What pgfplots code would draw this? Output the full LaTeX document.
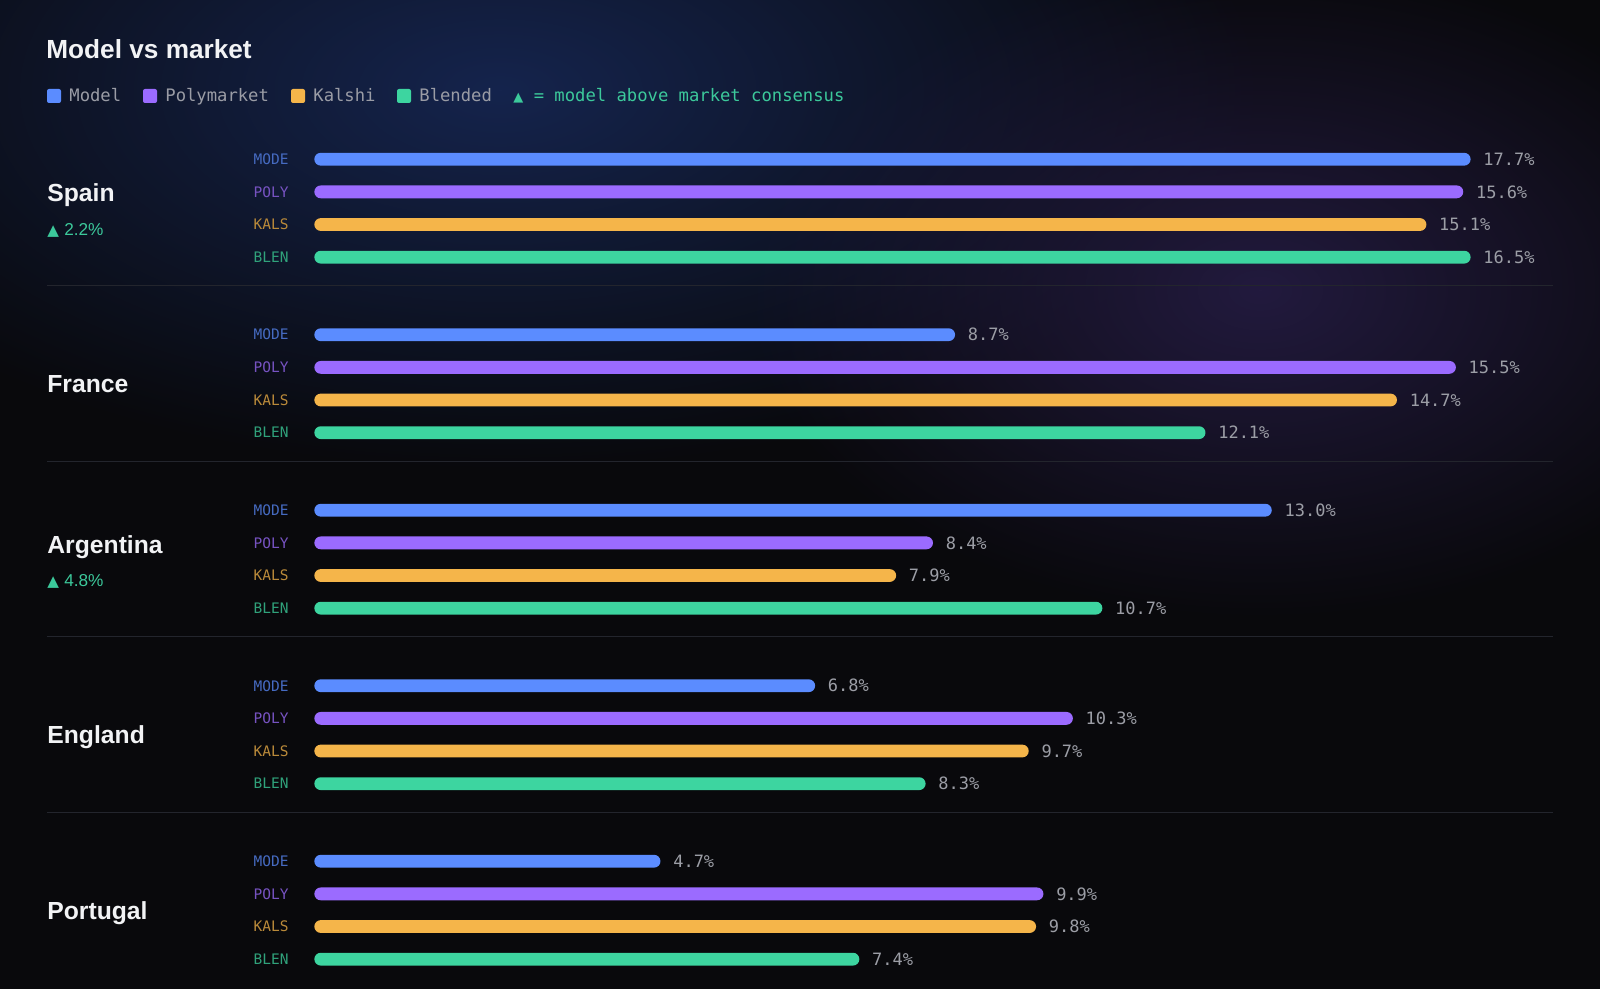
\documentclass[border=0pt]{standalone}
\usepackage{pgfplots}
\pgfplotsset{compat=1.18}
\usepackage{pgfplotstable}
\usepackage{fontspec}
\setmainfont{Liberation Sans}
\newfontfamily\mono{DejaVu Sans Mono}
\newfontfamily\sym{DejaVu Sans}
\usetikzlibrary{fadings}
\definecolor{bg}{HTML}{09090C}
\definecolor{glowblue}{HTML}{15244D}
\definecolor{glowpurple}{HTML}{221A3E}
\definecolor{cmodel}{HTML}{5B8CFF}
\definecolor{cpoly}{HTML}{9B6BFF}
\definecolor{ckals}{HTML}{F5B54A}
\definecolor{cblen}{HTML}{3DD5A0}
\definecolor{valgray}{HTML}{9C9EA6}
\definecolor{leggray}{HTML}{9A9CA5}
\definecolor{sepc}{HTML}{23252D}
\definecolor{titlec}{HTML}{F2F3F5}
\definecolor{greentxt}{HTML}{3CC99B}
\tikzfading[name=glow, inner color=transparent!0, outer color=transparent!100]

\pgfplotstableread{
country y model poly kals blen
Spain 159.2 17.7 15.6 15.1 16.5
France 334.7 8.7 15.5 14.7 12.1
Argentina 510.2 13.0 8.4 7.9 10.7
England 685.7 6.8 10.3 9.7 8.3
Portugal 861.2 4.7 9.9 9.8 7.4
}\datatable

\begin{document}
\begin{tikzpicture}[x=0.5pt,y=-0.5pt]
\useasboundingbox (0,0) rectangle (1600,989);
\fill[bg] (0,0) rectangle (1600,989);
\fill[glowblue, path fading=glow] (500,90) ellipse [x radius=760, y radius=380];
\fill[glowpurple, path fading=glow] (1260,290) ellipse [x radius=520, y radius=330];

% separators
\foreach \yy in {285.7,461.2,636.7,812.2} {
  \draw[sepc, line width=0.5pt] (47,\yy) -- (1553,\yy);
}

\begin{axis}[
  at={(0,0)}, anchor=north west,
  scale only axis, width=800pt, height=494.5pt,
  xmin=-4.268, xmax=17.457, ymin=0, ymax=989, y dir=reverse,
  axis lines=none, ticks=none, clip=false,
  x filter/.expression={min(x,15.7)},
  every axis plot/.append style={xbar, bar width=6.4pt, bar shift=0pt, draw=none, rounded corners=3.2pt},
  point meta=explicit symbolic,
  nodes near coords={\pgfplotspointmeta\%},
  every node near coord/.append style={anchor=west, inner sep=0pt, xshift=6.2pt,
     font=\mono\fontsize{8.5}{10}\selectfont, text=valgray},
]
\addplot[fill=cmodel] table[x=model, y=y, meta=model] {\datatable};
\addplot[fill=cpoly] table[x=poly, y expr=\thisrow{y}+32.65, meta=poly] {\datatable};
\addplot[fill=ckals] table[x=kals, y expr=\thisrow{y}+65.3, meta=kals] {\datatable};
\addplot[fill=cblen] table[x=blen, y expr=\thisrow{y}+97.95, meta=blen] {\datatable};
\end{axis}

% title
\node[anchor=base west, inner sep=0pt, text=titlec, font=\bfseries\fontsize{13.1}{15}\selectfont] at (46,59) {Model vs market};

% legend
\begin{scope}[font=\mono\fontsize{8.6}{10}\selectfont]
\fill[cmodel, rounded corners=1pt] (47,89) rectangle (61,103);
\node[anchor=base west, inner sep=0pt, text=leggray] at (69,102) {Model};
\fill[cpoly, rounded corners=1pt] (143,89) rectangle (157,103);
\node[anchor=base west, inner sep=0pt, text=leggray] at (165,102) {Polymarket};
\fill[ckals, rounded corners=1pt] (291,89) rectangle (305,103);
\node[anchor=base west, inner sep=0pt, text=leggray] at (313,102) {Kalshi};
\fill[cblen, rounded corners=1pt] (397,89) rectangle (411,103);
\node[anchor=base west, inner sep=0pt, text=leggray] at (419,102) {Blended};
\node[anchor=base west, inner sep=0pt, text=greentxt] at (513,102) {{\sym\fontsize{6.5}{8}\selectfont ▲} = model above market consensus};
\end{scope}

% country names
\begin{scope}[font=\bfseries\fontsize{12.35}{14}\selectfont]
\node[anchor=base west, inner sep=0pt, text=titlec] at (47,202) {Spain};
\node[anchor=base west, inner sep=0pt, text=titlec] at (47,392.5) {France};
\node[anchor=base west, inner sep=0pt, text=titlec] at (47,553) {Argentina};
\node[anchor=base west, inner sep=0pt, text=titlec] at (47,743.5) {England};
\node[anchor=base west, inner sep=0pt, text=titlec] at (47,919) {Portugal};
\end{scope}
\begin{scope}[font=\fontsize{8.6}{10}\selectfont]
\node[anchor=base west, inner sep=0pt, text=greentxt] at (47,235.5) {{\sym\fontsize{7.6}{8}\selectfont ▲}\hspace{2.6pt}2.2\%};
\node[anchor=base west, inner sep=0pt, text=greentxt] at (47,586) {{\sym\fontsize{7.6}{8}\selectfont ▲}\hspace{2.6pt}4.8\%};
\end{scope}

% row labels
\begin{scope}[font=\mono\fontsize{7.25}{9}\selectfont]
\foreach \g in {159.2,334.7,510.2,685.7,861.2} {
  \node[anchor=base east, inner sep=0pt, text=cmodel!75!bg] at (289,\g+5.3) {MODE};
  \node[anchor=base east, inner sep=0pt, text=cpoly!75!bg] at (289,\g+32.65+5.3) {POLY};
  \node[anchor=base east, inner sep=0pt, text=ckals!75!bg] at (289,\g+65.3+5.3) {KALS};
  \node[anchor=base east, inner sep=0pt, text=cblen!75!bg] at (289,\g+97.95+5.3) {BLEN};
}
\end{scope}
\end{tikzpicture}
\end{document}
